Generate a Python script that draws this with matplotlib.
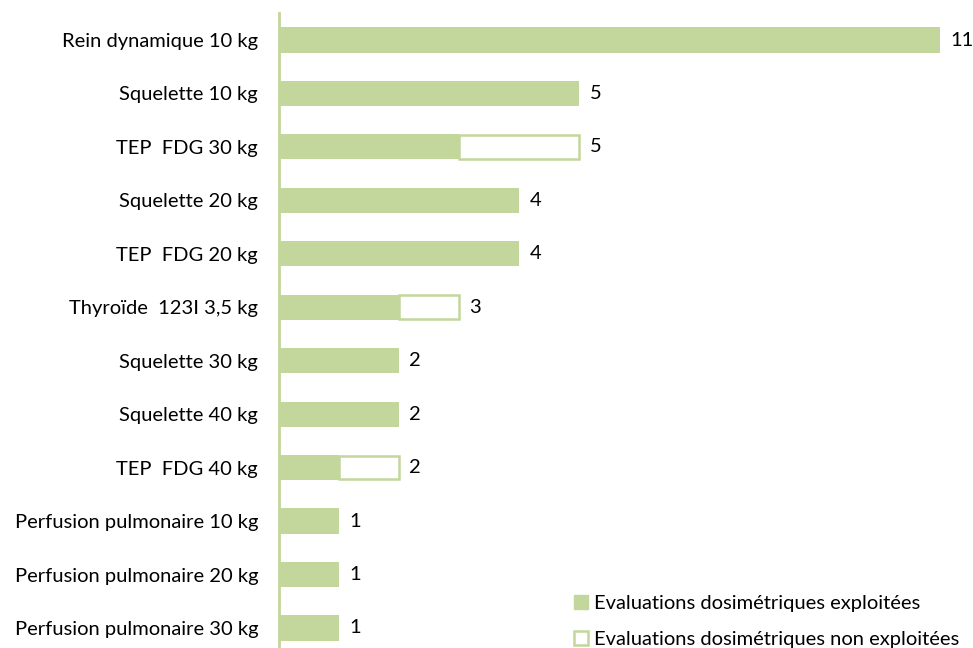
import numpy as np
import matplotlib.pyplot as plt
from matplotlib.patches import Patch

plt.rcParams['font.family'] = ['Lato', 'DejaVu Sans']

examens = ['Rein dynamique 10 kg', 'Squelette 10 kg', 'TEP  FDG 30 kg',
           'Squelette 20 kg', 'TEP  FDG 20 kg', 'Thyroïde  123I 3,5 kg',
           'Squelette 30 kg', 'Squelette 40 kg', 'TEP  FDG 40 kg',
           'Perfusion pulmonaire 10 kg', 'Perfusion pulmonaire 20 kg',
           'Perfusion pulmonaire 30 kg']
exploitees = [11, 5, 3, 4, 4, 2, 2, 2, 1, 1, 1, 1]
non_exploitees = [0, 0, 2, 0, 0, 1, 0, 0, 1, 0, 0, 0]

vert = '#C3D69B'
fs = 14.5

fig = plt.figure(figsize=(9.73, 6.48), dpi=100)
ax = fig.add_axes([279/973, -0.0103, (940-279)/973, 0.9898])

y = np.arange(len(examens))
ex = np.array(exploitees)
nex = np.array(non_exploitees)

ax.barh(y, ex, height=0.47, color=vert, edgecolor='none')
for yi, e, n in zip(y, ex, nex):
    if n > 0:
        ax.barh(yi, n, left=e, height=0.44, color='white', edgecolor=vert, linewidth=1.8)

for yi, tot in zip(y, ex + nex):
    ax.text(tot + 0.17, yi, str(tot), va='center', ha='left', fontsize=fs, color='black', clip_on=False)

ax.set_xlim(0, 11)
ax.set_ylim(len(examens) - 0.5, -0.5)
ax.set_yticks(y)
ax.set_yticklabels(examens, fontsize=fs)
ax.tick_params(axis='y', length=0, pad=15)
ax.set_xticks([])
for s in ['top', 'right', 'bottom']:
    ax.spines[s].set_visible(False)
ax.spines['left'].set_color(vert)
ax.spines['left'].set_linewidth(2)

handles = [Patch(facecolor=vert, edgecolor=vert, label='Evaluations dosimétriques exploitées'),
           Patch(facecolor='white', edgecolor=vert, linewidth=1.8, label='Evaluations dosimétriques non exploitées')]
fig.legend(handles=handles, loc='lower left', bbox_to_anchor=(556/973, -0.028), frameon=False,
           fontsize=fs, handlelength=0.7, handleheight=0.7, handletextpad=0.3, labelspacing=0.95)

fig.savefig('out.png', dpi=100)
